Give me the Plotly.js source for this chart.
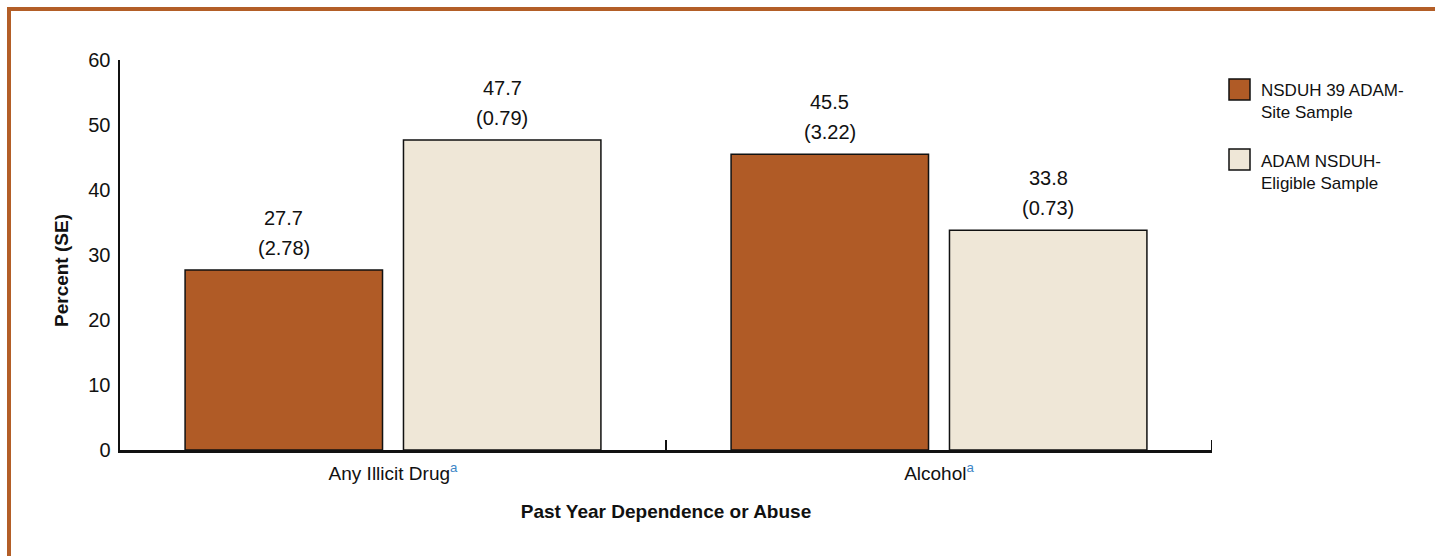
<!DOCTYPE html>
<html>
<head>
<meta charset="utf-8">
<script src="https://cdn.plot.ly/plotly-3.0.1.min.js"></script>
<style>
  html, body { margin: 0; padding: 0; background: #fff; }
  #chart { width: 1435px; height: 556px; }
</style>
</head>
<body>
<div id="chart"></div>
<script>
// ---- data ----
const categories = ["Any Illicit Drug", "Alcohol"];
const footnotes = ["a", "a"];
const seriesNames = ["NSDUH 39 ADAM-<br>Site Sample", "ADAM NSDUH-<br>Eligible Sample"];
const nsduhValues = [27.7, 45.5];
const nsduhSE = [2.78, 3.22];
const adamValues = [47.7, 33.8];
const adamSE = [0.79, 0.73];
const yTicks = [0, 10, 20, 30, 40, 50, 60];

// ---- style ----
const FONT = "'Liberation Sans', Arial, sans-serif";
const INK = "#111";
const ORANGE = "#B05B26";
const BEIGE = "#EFE7D7";
const BORDER = "#B35E27";
const FOOT = "#3D86C6";
const BARGAP = 0.2, GROUPGAP = 0.096;

const W = 1435, H = 556;
const L = 120, R = W - 1212, T = 60, B = H - 450;
const pw = W - L - R, ph = H - T - B;
const px = p => (p - L) / pw;
const py = q => (H - B - q) / ph;

const tickText = categories.map((c, i) =>
  c + "<sup><span style='color:" + FOOT + "'>" + footnotes[i] + "</span></sup>");

const series = [
  { name: seriesNames[0], values: nsduhValues, se: nsduhSE, color: ORANGE },
  { name: seriesNames[1], values: adamValues, se: adamSE, color: BEIGE }
];

const traces = series.map(s => ({
  type: "bar", name: s.name, x: categories, y: s.values,
  marker: { color: s.color, line: { color: INK, width: 1.5 } },
  hoverinfo: "skip", showlegend: false
}));

// value labels above bars (positioned on the category axis via bar offsets)
const slot = (1 - BARGAP) / series.length;
const annotations = [];
series.forEach((s, k) => {
  const off = -((1 - BARGAP) / 2) + slot * (k + 0.5);
  s.values.forEach((v, i) => {
    annotations.push({
      xref: "x", yref: "y", x: i + off, y: v, text: v.toFixed(1),
      showarrow: false, yanchor: "middle", yshift: 52,
      font: { family: FONT, size: 20, color: INK }
    });
    annotations.push({
      xref: "x", yref: "y", x: i + off, y: v, text: "(" + s.se[i].toFixed(2) + ")",
      showarrow: false, yanchor: "middle", yshift: 22,
      font: { family: FONT, size: 20, color: INK }
    });
  });
});

// y-axis title
annotations.push({
  xref: "paper", yref: "paper", x: px(61), y: py(271), text: "<b>Percent (SE)</b>",
  textangle: -90, showarrow: false, xanchor: "center", yanchor: "middle",
  font: { family: FONT, size: 19, color: INK }
});

// legend (custom, to match square swatches)
const shapes = [];
const legendTop = [79, 149];
series.forEach((s, k) => {
  const t = legendTop[k];
  shapes.push({
    type: "rect", xref: "paper", yref: "paper",
    x0: px(1229), x1: px(1250), y0: py(t + 21), y1: py(t),
    fillcolor: s.color, line: { color: INK, width: 1.5 }
  });
  annotations.push({
    xref: "paper", yref: "paper", x: px(1259), y: py(t + 23), text: s.name,
    showarrow: false, xanchor: "left", yanchor: "middle", align: "left",
    font: { family: FONT, size: 17, color: INK }
  });
});

// inside tick at the right end of the category axis
shapes.push({
  type: "line", xref: "x", yref: "paper",
  x0: categories.length - 0.5, x1: categories.length - 0.5, y0: 0, y1: 10 / ph,
  line: { color: INK, width: 2 }
});

// page border (top and left)
shapes.push({
  type: "path", xref: "paper", yref: "paper",
  path: "M " + px(9) + "," + py(H + 10) + " L " + px(9) + "," + py(9) + " L " + px(W + 10) + "," + py(9),
  line: { color: BORDER, width: 4 }, fillcolor: "rgba(0,0,0,0)", layer: "above"
});

const layout = {
  width: W, height: H,
  margin: { l: L, r: R, t: T, b: B, pad: 0 },
  paper_bgcolor: "#fff", plot_bgcolor: "#fff",
  font: { family: FONT, size: 19, color: INK },
  barmode: "group", bargap: BARGAP, bargroupgap: GROUPGAP,
  showlegend: false,
  xaxis: {
    type: "category", range: [-0.5, 1.5], tickmode: "array", tickvals: categories, ticktext: tickText,
    tickson: "boundaries", ticks: "inside", ticklen: 10, tickwidth: 2, tickcolor: INK,
    showline: true, linecolor: INK, linewidth: 2.5, showgrid: false, zeroline: false,
    ticklabelstandoff: 5,
    tickfont: { family: FONT, size: 19, color: INK },
    title: { text: "<b>Past Year Dependence or Abuse</b>", standoff: 22,
             font: { family: FONT, size: 19, color: INK } },
    fixedrange: true
  },
  yaxis: {
    range: [0, 60], tickmode: "array", tickvals: yTicks,
    showline: true, linecolor: INK, linewidth: 2.5, showgrid: false, zeroline: false,
    ticks: "", ticklabelstandoff: 3,
    tickfont: { family: FONT, size: 20, color: INK },
    fixedrange: true
  },
  annotations: annotations,
  shapes: shapes
};

Plotly.newPlot("chart", traces, layout, { displayModeBar: false, staticPlot: true });
</script>
</body>
</html>
